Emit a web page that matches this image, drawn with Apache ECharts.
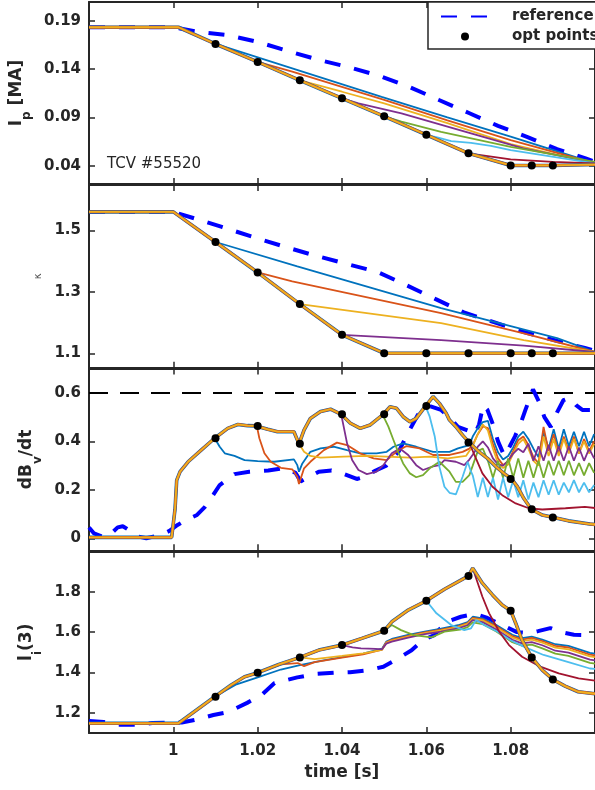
<!DOCTYPE html>
<html>
<head>
<meta charset="utf-8">
<script src="https://cdn.jsdelivr.net/npm/echarts@6/dist/echarts.min.js"></script>
<style>
  html, body { margin: 0; padding: 0; background: #fff; }
  #chart { width: 595px; height: 790px; }
</style>
</head>
<body>
<div id="chart"></div>
<script>
// ---- data (TCV #55520 ramp-down optimisation) ----
const T_MIN = 0.98, T_MAX = 1.1;
const DBV_LIMIT = 0.6;

// optimisation points
const optT = [1.01, 1.02, 1.03, 1.04, 1.05, 1.06, 1.07, 1.08, 1.085, 1.09];
const ipOpt = [0.1659, 0.1473, 0.1283, 0.1097, 0.0911, 0.0720, 0.0528, 0.0403, 0.0403, 0.0403];
const kappaOpt = [1.462, 1.363, 1.26, 1.16, 1.1, 1.1, 1.1, 1.1, 1.1, 1.1];
const dbvOpt = [0.413, 0.464, 0.39, 0.512, 0.512, 0.546, 0.395, 0.245, 0.12, 0.086];
const liOpt = [1.28, 1.399, 1.475, 1.536, 1.607, 1.755, 1.878, 1.706, 1.475, 1.366];

// reference (dashed blue)
const ipRef = [[0.98,0.1832],[1.0,0.1832],[1.0059,0.1783],[1.013,0.175],[1.02,0.168],[1.028,0.1576],[1.0346,0.1493],[1.0416,0.142],[1.049,0.1328],[1.056,0.1214],[1.063,0.108],[1.0701,0.0945],[1.077,0.0812],[1.084,0.0696],[1.091,0.0572],[1.0976,0.0479],[1.1,0.044]];
const kappaRef = [[0.98,1.56],[1.0,1.56],[1.0045,1.541],[1.0115,1.511],[1.019,1.478],[1.027,1.444],[1.0336,1.418],[1.041,1.391],[1.0485,1.364],[1.0555,1.32],[1.0621,1.277],[1.0689,1.233],[1.076,1.201],[1.0831,1.169],[1.0911,1.14],[1.0976,1.117],[1.1,1.108]];
const dbvRef = [[0.98,0.045],[0.9812,0.02],[0.9835,0.004],[0.9853,0.02],[0.9868,0.045],[0.988,0.05],[0.9894,0.035],[0.9915,0.008],[0.9936,0.0],[0.9955,0.008],[0.997,0.013],[0.999,0.03],[1.001,0.055],[1.003,0.075],[1.0055,0.095],[1.0075,0.13],[1.0095,0.18],[1.011,0.22],[1.0145,0.265],[1.018,0.275],[1.0225,0.28],[1.0265,0.29],[1.029,0.27],[1.0302,0.235],[1.0318,0.25],[1.0345,0.275],[1.0375,0.28],[1.0405,0.265],[1.0435,0.245],[1.0455,0.255],[1.048,0.28],[1.0505,0.30],[1.0535,0.36],[1.0555,0.43],[1.058,0.51],[1.061,0.545],[1.0635,0.53],[1.0655,0.50],[1.0675,0.46],[1.0698,0.445],[1.0715,0.43],[1.0725,0.47],[1.0735,0.55],[1.0745,0.53],[1.0758,0.47],[1.077,0.40],[1.0785,0.34],[1.0798,0.38],[1.081,0.42],[1.0825,0.48],[1.0835,0.53],[1.0853,0.615],[1.0868,0.56],[1.088,0.50],[1.0895,0.46],[1.091,0.52],[1.0925,0.57],[1.094,0.58],[1.0955,0.55],[1.097,0.53],[1.0988,0.53],[1.1,0.54]];
const liRef = [[0.98,1.16],[0.9835,1.155],[0.987,1.142],[0.991,1.142],[0.995,1.15],[0.999,1.152],[1.002,1.153],[1.005,1.165],[1.0095,1.19],[1.013,1.205],[1.0175,1.25],[1.021,1.29],[1.024,1.348],[1.0294,1.376],[1.034,1.394],[1.0384,1.40],[1.0419,1.402],[1.0463,1.412],[1.0498,1.429],[1.0533,1.47],[1.0565,1.51],[1.0592,1.561],[1.0619,1.585],[1.0647,1.65],[1.0682,1.676],[1.0715,1.69],[1.0745,1.67],[1.078,1.635],[1.0815,1.6],[1.0845,1.595],[1.0865,1.605],[1.0894,1.62],[1.092,1.6],[1.095,1.587],[1.1,1.585]];

// final optimised trajectory (through every opt point)
const ipFinal = [[0.98,0.1832],[1.0012,0.1832],[1.01,0.1659],[1.02,0.1473],[1.03,0.1283],[1.04,0.1097],[1.05,0.0911],[1.06,0.072],[1.07,0.0528],[1.08,0.0403],[1.09,0.0403],[1.1,0.0412]];
const kappaFinal = [[0.98,1.56],[1.0,1.56],[1.01,1.462],[1.02,1.363],[1.03,1.26],[1.04,1.16],[1.05,1.1],[1.1,1.1]];
const dbvFinal = [[0.98,0.004],[0.9996,0.004],[1.0004,0.12],[1.0008,0.24],[1.0016,0.275],[1.0035,0.316],[1.0066,0.364],[1.0098,0.413],[1.0129,0.454],[1.0153,0.47],[1.0176,0.465],[1.0196,0.464],[1.0224,0.45],[1.0247,0.44],[1.0286,0.44],[1.0298,0.39],[1.031,0.447],[1.0325,0.495],[1.0349,0.523],[1.0373,0.533],[1.0398,0.512],[1.042,0.475],[1.0443,0.454],[1.0467,0.468],[1.0498,0.512],[1.0514,0.543],[1.0529,0.537],[1.0545,0.502],[1.0561,0.481],[1.0576,0.495],[1.0598,0.546],[1.0616,0.585],[1.0631,0.557],[1.0647,0.516],[1.0655,0.488],[1.067,0.461],[1.0686,0.426],[1.0702,0.395],[1.0725,0.357],[1.0745,0.33],[1.0765,0.296],[1.0784,0.268],[1.0802,0.245],[1.0816,0.213],[1.0831,0.165],[1.0849,0.12],[1.0875,0.096],[1.0902,0.086],[1.0937,0.072],[1.0988,0.059],[1.1,0.057]];
const liFinal = [[0.98,1.149],[1.0012,1.149],[1.0098,1.28],[1.0137,1.338],[1.0169,1.379],[1.02,1.399],[1.025,1.44],[1.03,1.475],[1.0345,1.511],[1.04,1.536],[1.0447,1.569],[1.05,1.607],[1.0518,1.651],[1.0557,1.709],[1.06,1.755],[1.0643,1.812],[1.07,1.878],[1.071,1.916],[1.0733,1.842],[1.0757,1.784],[1.078,1.734],[1.08,1.706],[1.0812,1.644],[1.0827,1.56],[1.085,1.475],[1.0875,1.412],[1.09,1.366],[1.0929,1.333],[1.096,1.305],[1.1,1.295]];

// branches leaving the final trajectory at successive opt points
const ipBlue = [[1.01,0.1659],[1.0282,0.1407],[1.0494,0.1113],[1.065,0.09],[1.08,0.070],[1.1,0.0425]];
const ipOrange = [[1.02,0.1473],[1.0282,0.1372],[1.05,0.108],[1.065,0.087],[1.08,0.0665],[1.1,0.0425]];
const ipYellow = [[1.03,0.1283],[1.04,0.1165],[1.05,0.1045],[1.065,0.084],[1.08,0.0624],[1.1,0.0425]];
const ipPurple = [[1.04,0.1097],[1.0439,0.1045],[1.0541,0.0942],[1.0706,0.0735],[1.083,0.058],[1.1,0.043]];
const ipGreen = [[1.05,0.0911],[1.0541,0.0855],[1.0635,0.075],[1.08,0.0596],[1.1,0.044]];
const ipLightBlue = [[1.06,0.072],[1.0628,0.069],[1.0659,0.0655],[1.0706,0.0637],[1.0753,0.0606],[1.08,0.0562],[1.1,0.0425]];
const ipRed = [[1.07,0.0528],[1.08,0.0466],[1.09,0.044],[1.1,0.0425]];

const kappaBlue = [[1.01,1.462],[1.0294,1.3825],[1.0635,1.247],[1.091,1.149],[1.1,1.104]];
const kappaOrange = [[1.02,1.363],[1.0282,1.3336],[1.0635,1.2305],[1.0831,1.165],[1.1,1.104]];
const kappaYellow = [[1.03,1.26],[1.0635,1.198],[1.0831,1.143],[1.1,1.104]];
const kappaPurple = [[1.04,1.16],[1.0635,1.143],[1.0831,1.125],[1.1,1.104]];
const kappaGreen = [[1.05,1.1],[1.1,1.1]];
const kappaLightBlue = [[1.06,1.1],[1.1,1.1]];
const kappaRed = [[1.07,1.1],[1.1,1.1]];

const dbvBluePre = [[1.0098,0.413],[1.011,0.378],[1.0122,0.351],[1.0145,0.34],[1.0169,0.323],[1.02,0.319],[1.0239,0.316],[1.0286,0.326],[1.0294,0.302],[1.0298,0.275],[1.0306,0.309],[1.0325,0.357],[1.0349,0.371],[1.038,0.378],[1.0412,0.364],[1.0443,0.351],[1.0482,0.351],[1.0506,0.357],[1.0522,0.378],[1.0545,0.392],[1.0576,0.378],[1.0616,0.357],[1.0655,0.357],[1.0675,0.371],[1.0702,0.385]];
const dbvOrangePre = [[1.0198,0.464],[1.0204,0.413],[1.0216,0.351],[1.0231,0.316],[1.0255,0.291],[1.0282,0.285],[1.0294,0.254],[1.0298,0.224],[1.031,0.289],[1.0325,0.316],[1.0357,0.364],[1.0388,0.395],[1.0412,0.385],[1.0443,0.351],[1.0475,0.33],[1.0506,0.323],[1.0529,0.357],[1.0553,0.381],[1.0584,0.371],[1.0616,0.344],[1.0655,0.344],[1.0686,0.357],[1.0702,0.37]];
const dbvYellowPre = [[1.0298,0.39],[1.031,0.357],[1.0325,0.34],[1.0349,0.333],[1.0404,0.337],[1.0459,0.34],[1.0506,0.337],[1.0561,0.333],[1.0608,0.337],[1.0651,0.33],[1.0694,0.34],[1.0702,0.36]];
const dbvPurplePre = [[1.0398,0.512],[1.0404,0.461],[1.0412,0.392],[1.0424,0.323],[1.0439,0.282],[1.0459,0.265],[1.0482,0.275],[1.0498,0.302],[1.0518,0.351],[1.0537,0.371],[1.0557,0.344],[1.0576,0.302],[1.0592,0.282],[1.0616,0.297],[1.0631,0.302],[1.0643,0.323],[1.067,0.316],[1.069,0.302],[1.0702,0.325]];
const dbvGreenPre = [[1.0496,0.512],[1.051,0.461],[1.0522,0.406],[1.0533,0.357],[1.0545,0.309],[1.0561,0.268],[1.0576,0.252],[1.0592,0.261],[1.0608,0.289],[1.0631,0.316],[1.0655,0.275],[1.067,0.233],[1.0686,0.233],[1.0702,0.261]];
const dbvLightBluePre = [[1.0598,0.546],[1.0608,0.502],[1.062,0.42],[1.0631,0.295],[1.0643,0.213],[1.0655,0.188],[1.067,0.181],[1.0686,0.254],[1.0698,0.316],[1.0706,0.275]];
const dbvRed = [[1.0702,0.395],[1.0714,0.344],[1.0733,0.268],[1.0757,0.213],[1.078,0.178],[1.0812,0.144],[1.0843,0.124],[1.0875,0.119],[1.093,0.124],[1.0976,0.13],[1.1,0.125]];
// oscillating tails, sampled on a common time grid
const dbvTailT = [1.0710,1.0722,1.0734,1.0746,1.0758,1.0770,1.0782,1.0794,1.0806,1.0818,1.0830,1.0842,1.0854,1.0866,1.0878,1.0890,1.0902,1.0914,1.0926,1.0938,1.0950,1.0962,1.0974,1.0986,1.0998];
const dbvBlueTail = [0.42,0.455,0.48,0.485,0.41,0.355,0.325,0.34,0.375,0.42,0.44,0.41,0.37,0.335,0.44,0.37,0.45,0.37,0.45,0.38,0.44,0.38,0.44,0.38,0.43];
const dbvOrangeTail = [0.385,0.43,0.462,0.455,0.39,0.33,0.302,0.318,0.36,0.405,0.42,0.385,0.335,0.31,0.46,0.36,0.43,0.35,0.42,0.36,0.42,0.35,0.41,0.36,0.40];
const dbvYellowTail = [0.38,0.43,0.47,0.445,0.37,0.31,0.29,0.305,0.35,0.39,0.41,0.37,0.32,0.30,0.42,0.34,0.41,0.34,0.41,0.35,0.41,0.35,0.40,0.35,0.39];
const dbvPurpleTail = [0.345,0.378,0.40,0.375,0.33,0.305,0.30,0.32,0.35,0.37,0.355,0.39,0.32,0.38,0.32,0.385,0.32,0.38,0.32,0.38,0.32,0.375,0.32,0.37,0.33];
const dbvGreenTail = [0.30,0.36,0.37,0.32,0.25,0.32,0.25,0.33,0.25,0.33,0.25,0.32,0.25,0.32,0.25,0.32,0.26,0.32,0.26,0.32,0.26,0.31,0.26,0.31,0.27];
const dbvLightBlueTail = [0.26,0.17,0.25,0.17,0.25,0.16,0.25,0.17,0.24,0.17,0.24,0.16,0.23,0.17,0.24,0.18,0.24,0.18,0.23,0.19,0.24,0.19,0.23,0.19,0.22];

const liBluePre = [[1.0098,1.28],[1.015,1.342],[1.02,1.376],[1.0255,1.415],[1.03,1.437],[1.035,1.458],[1.04,1.476],[1.045,1.494],[1.0495,1.518],[1.0505,1.553]];
const liOrangePre = [[1.02,1.399],[1.0255,1.44],[1.0295,1.447],[1.031,1.432],[1.0335,1.452],[1.04,1.474],[1.045,1.49],[1.0495,1.514],[1.0505,1.55]];
const liYellowPre = [[1.03,1.475],[1.0335,1.466],[1.04,1.482],[1.045,1.495],[1.0495,1.512],[1.0505,1.547]];
const liPurplePre = [[1.04,1.536],[1.0425,1.525],[1.0445,1.52],[1.048,1.517],[1.0495,1.515],[1.0505,1.543]];
const liBundleT = [1.0518,1.0557,1.0596,1.0635,1.0675,1.0698,1.071,1.0733,1.0765,1.0804,1.0827,1.085,1.0875,1.0906,1.0937,1.0988,1.1];
const liBlueTail = [1.566,1.586,1.603,1.617,1.634,1.650,1.676,1.668,1.636,1.587,1.570,1.578,1.563,1.540,1.532,1.497,1.493];
const liOrangeTail = [1.562,1.582,1.599,1.612,1.629,1.645,1.671,1.663,1.630,1.580,1.563,1.571,1.556,1.532,1.524,1.489,1.485];
const liYellowTail = [1.558,1.578,1.595,1.608,1.625,1.641,1.666,1.658,1.624,1.573,1.556,1.563,1.548,1.523,1.515,1.480,1.476];
const liPurpleTail = [1.553,1.573,1.59,1.602,1.619,1.634,1.659,1.650,1.614,1.562,1.544,1.551,1.535,1.508,1.499,1.464,1.460];
const liGreen = [[1.05,1.607],[1.0518,1.635],[1.054,1.61],[1.057,1.585],[1.0612,1.574],[1.0643,1.602],[1.068,1.612],[1.0698,1.625],[1.071,1.648],[1.0733,1.64],[1.0765,1.604],[1.0804,1.55],[1.0827,1.533],[1.085,1.538],[1.0875,1.52],[1.0906,1.494],[1.0937,1.483],[1.0988,1.448],[1.1,1.444]];
const liLightBlue = [[1.06,1.755],[1.0624,1.693],[1.0659,1.635],[1.069,1.61],[1.0706,1.619],[1.0718,1.66],[1.0737,1.635],[1.0769,1.602],[1.08,1.56],[1.0831,1.528],[1.0878,1.487],[1.0933,1.454],[1.0988,1.42],[1.1,1.418]];
const liRed = [[1.07,1.878],[1.071,1.916],[1.0714,1.891],[1.0733,1.775],[1.0749,1.693],[1.0773,1.602],[1.0796,1.536],[1.0827,1.478],[1.0867,1.432],[1.0914,1.396],[1.0961,1.371],[1.1,1.36]];

// ---- build ----
const AX = '#262626';
const FONT = 'DejaVu Sans';
const COLORS = ['#0072BD', '#D95319', '#EDB120', '#7E2F8E', '#77AC30', '#4DBEEE', '#A2142F'];

const zip = (ts, vs) => ts.map((t, i) => [t, vs[i]]);

const panels = [
  {
    ref: ipRef, final: ipFinal, opt: ipOpt,
    branches: [ipBlue, ipOrange, ipYellow, ipPurple, ipGreen, ipLightBlue, ipRed],
    min: 0.0211, max: 0.2093, ticks: [0.04, 0.09, 0.14, 0.19], fmt: v => v.toFixed(2),
    name: '{m|I}{s|p}{m| [MA]}', nameGap: 52
  },
  {
    ref: kappaRef, final: kappaFinal, opt: kappaOpt,
    branches: [kappaBlue, kappaOrange, kappaYellow, kappaPurple, kappaGreen, kappaLightBlue, kappaRed],
    min: 1.053, max: 1.6475, ticks: [1.1, 1.3, 1.5], fmt: v => v.toFixed(1),
    name: '{k|κ}', nameGap: 46
  },
  {
    ref: dbvRef, final: dbvFinal, opt: dbvOpt,
    branches: [
      dbvBluePre.concat(zip(dbvTailT, dbvBlueTail)),
      dbvOrangePre.concat(zip(dbvTailT, dbvOrangeTail)),
      dbvYellowPre.concat(zip(dbvTailT, dbvYellowTail)),
      dbvPurplePre.concat(zip(dbvTailT, dbvPurpleTail)),
      dbvGreenPre.concat(zip(dbvTailT, dbvGreenTail)),
      dbvLightBluePre.concat(zip(dbvTailT, dbvLightBlueTail)),
      dbvRed
    ],
    min: -0.0495, max: 0.701, ticks: [0, 0.2, 0.4, 0.6], fmt: v => (v === 0 ? '0' : v.toFixed(1)),
    name: '{m|dB}{s|v}{m|/dt}', nameGap: 44
  },
  {
    ref: liRef, final: liFinal, opt: liOpt,
    branches: [
      liBluePre.concat(zip(liBundleT, liBlueTail)),
      liOrangePre.concat(zip(liBundleT, liOrangeTail)),
      liYellowPre.concat(zip(liBundleT, liYellowTail)),
      liPurplePre.concat(zip(liBundleT, liPurpleTail)),
      liGreen, liLightBlue, liRed
    ],
    min: 1.101, max: 1.9988, ticks: [1.2, 1.4, 1.6, 1.8], fmt: v => v.toFixed(1),
    name: '{m|l}{s|i}{m|(3)}', nameGap: 44
  }
];

const gridBoxes = [
  { top: 2, height: 182 },
  { top: 185, height: 182.7 },
  { top: 368.5, height: 181.8 },
  { top: 551.5, height: 181.5 }
];

const grid = gridBoxes.map(b => ({ left: 89, width: 511, top: b.top, height: b.height }));

const tickStyle = { show: true, inside: true, length: 6, lineStyle: { color: AX, width: 1.5 } };
const lineAxis = { show: true, onZero: false, lineStyle: { color: AX, width: 2 } };
const labelFont = { fontFamily: FONT, fontWeight: 'bold', fontSize: 15, color: AX };

const xAxis = [];
const yAxis = [];
panels.forEach((p, i) => {
  const last = i === panels.length - 1;
  xAxis.push({
    gridIndex: i, type: 'value', position: 'bottom', min: T_MIN, max: T_MAX, interval: 0.02,
    axisLine: lineAxis, axisTick: tickStyle, splitLine: { show: false },
    axisLabel: Object.assign({
      show: last, margin: 11, showMinLabel: false, showMaxLabel: false,
      formatter: v => String(Math.round(v * 100) / 100)
    }, labelFont),
    name: last ? 'time [s]' : '', nameLocation: 'middle', nameGap: 31,
    nameTextStyle: { fontFamily: FONT, fontWeight: 'bold', fontSize: 17, color: AX }
  });
  xAxis.push({
    gridIndex: i, type: 'value', position: 'top', min: T_MIN, max: T_MAX, interval: 0.02,
    axisLine: lineAxis, axisTick: tickStyle, splitLine: { show: false }, axisLabel: { show: false }
  });
  yAxis.push({
    gridIndex: i, type: 'value', position: 'left', min: p.min, max: p.max,
    axisLine: lineAxis,
    axisTick: Object.assign({ customValues: p.ticks }, tickStyle),
    axisLabel: Object.assign({ customValues: p.ticks, margin: 8, formatter: p.fmt }, labelFont),
    splitLine: { show: false },
    name: p.name, nameLocation: 'middle', nameRotate: 90, nameGap: p.nameGap,
    nameTextStyle: {
      color: AX,
      rich: {
        m: { fontFamily: FONT, fontWeight: 'bold', fontSize: 17, color: AX, verticalAlign: 'top', lineHeight: 18 },
        s: { fontFamily: FONT, fontWeight: 'bold', fontSize: 12, color: AX, verticalAlign: 'bottom', padding: [13, 0, 0, 0] },
        k: { fontFamily: FONT, fontWeight: 'normal', fontSize: 10, color: '#555' }
      }
    }
  });
  yAxis.push({
    gridIndex: i, type: 'value', position: 'right', min: p.min, max: p.max,
    axisLine: lineAxis,
    axisTick: Object.assign({ customValues: p.ticks }, tickStyle),
    axisLabel: { show: false }, splitLine: { show: false }
  });
});

const series = [];
function addLine(gi, name, data, color, width, dash) {
  series.push({
    type: 'line', name: name, xAxisIndex: gi * 2, yAxisIndex: gi * 2, data: data,
    symbol: 'none', showSymbol: false, silent: true, animation: false,
    lineStyle: { color: color, width: width, type: dash || 'solid', cap: 'butt' },
    itemStyle: { color: color }
  });
}

panels.forEach((p, i) => {
  if (i === 2) {
    addLine(i, 'limit', [[T_MIN, DBV_LIMIT], [T_MAX, DBV_LIMIT]], '#000000', 2, [19, 12]);
  }
  addLine(i, 'reference', p.ref, '#0000FF', 4, [16, 14]);
  p.branches.forEach((b, k) => addLine(i, 'run ' + (k + 1), b, COLORS[k], 1.8));
  // last three runs coincide with the final trajectory
  addLine(i, 'run 8', p.final, COLORS[0], 3.6);
  addLine(i, 'run 9', p.final, COLORS[1], 2.8);
  addLine(i, 'run 10', p.final, COLORS[2], 1.8);
  series.push({
    type: 'scatter', name: 'opt points', xAxisIndex: i * 2, yAxisIndex: i * 2,
    data: zip(optT, p.opt), symbol: 'circle', symbolSize: 8, silent: true,
    itemStyle: { color: '#000000', opacity: 1 }, z: 5
  });
});

const chart = echarts.init(document.getElementById('chart'), null, { renderer: 'canvas' });
chart.setOption({
  animation: false,
  backgroundColor: '#ffffff',
  title: {
    text: 'TCV #55520', left: 107, top: 157, padding: 0,
    textStyle: { fontFamily: FONT, fontWeight: 'normal', fontSize: 15, color: AX }
  },
  legend: {
    data: [
      { name: 'reference', itemStyle: { opacity: 0 } },
      { name: 'opt points', icon: 'circle', itemStyle: { color: '#000000', opacity: 1 } }
    ],
    orient: 'vertical', left: 428, top: 2, padding: [6, 14, 4, 12],
    itemWidth: 48, itemHeight: 8, itemGap: 3,
    backgroundColor: '#ffffff', borderColor: AX, borderWidth: 1.5, borderRadius: 0,
    selectedMode: false,
    textStyle: { fontFamily: FONT, fontWeight: 'bold', fontSize: 15, color: AX, lineHeight: 17, padding: [0, 0, 0, 18] }
  },
  grid: grid,
  xAxis: xAxis,
  yAxis: yAxis,
  series: series
});
</script>
</body>
</html>
